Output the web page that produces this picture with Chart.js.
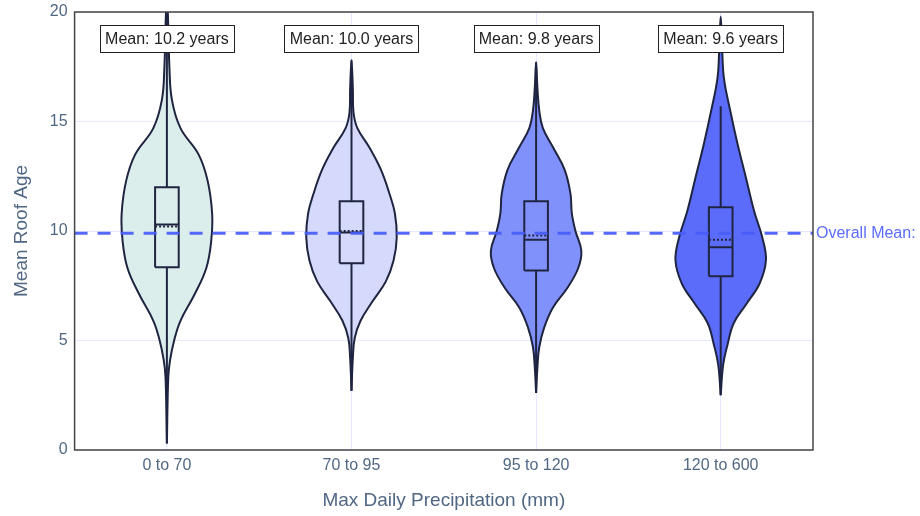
<!DOCTYPE html>
<html>
<head>
  <meta charset="UTF-8">
  <title>Mean Roof Age by Max Daily Precipitation</title>
  <script src="https://cdn.jsdelivr.net/npm/chart.js"></script>
  <style>
    html, body { margin: 0; padding: 0; background: #fff; }
    #wrap { width: 920px; height: 516px; position: relative; }
  </style>
</head>
<body>
  <div id="wrap"><canvas id="violinChart"></canvas></div>

  <script>
    // --- data ---
    const categories = ['0 to 70', '70 to 95', '95 to 120', '120 to 600'];
    const means = [10.2, 10.0, 9.8, 9.6];
    const medians = [10.3, 9.93, 9.6, 9.26];
    const q1 = [8.35, 8.53, 8.2, 7.93];
    const q3 = [12.0, 11.36, 11.36, 11.09];
    const whiskerLow = [0.3, 2.7, 2.6, 2.5];
    const whiskerHigh = [20.5, 17.8, 17.7, 15.7];
    const overallMean = 9.9;
    const yTicks = [0, 5, 10, 15, 20];

    // violin outlines: y levels and relative density (half width, max 1)
    const violinY = [
      [0.3, 3.3, 4.1, 5.0, 5.9, 7.1, 8.3, 9.55, 10.8, 12.3, 13.5, 14.7, 16.0, 17.5, 19.0, 20.8],
      [2.7, 4.2, 5.1, 5.9, 6.8, 7.7, 8.65, 9.7, 10.8, 11.7, 12.8, 13.8, 14.7, 15.4, 16.5, 17.8],
      [2.6, 3.8, 4.7, 5.6, 6.5, 7.4, 8.3, 9.1, 10.0, 10.8, 11.7, 12.8, 13.8, 14.7, 15.5, 16.5, 17.7],
      [2.5, 3.9, 4.8, 5.8, 6.7, 7.6, 8.65, 9.7, 10.9, 12.5, 14.0, 15.5, 17.0, 18.5, 19.8]
    ];
    const violinDensity = [
      [0, 0.03, 0.07, 0.16, 0.3, 0.61, 0.87, 0.98, 1.0, 0.9, 0.7, 0.3, 0.11, 0.055, 0.035, 0],
      [0, 0.03, 0.07, 0.2, 0.47, 0.76, 0.93, 1.0, 0.96, 0.84, 0.65, 0.4, 0.13, 0.045, 0.03, 0],
      [0, 0.03, 0.07, 0.18, 0.37, 0.69, 0.93, 1.0, 0.87, 0.79, 0.76, 0.63, 0.38, 0.15, 0.07, 0.03, 0],
      [0, 0.055, 0.15, 0.29, 0.58, 0.86, 1.0, 0.92, 0.74, 0.55, 0.37, 0.21, 0.07, 0.03, 0]
    ];

    const fills = ['#dceeec', '#d5dafc', '#8191fb', '#5a6cf9'];
    const edge = '#1f2440';
    const violinHalf = 0.245;
    const boxHalf = 0.064;
    const tickColor = '#506784';
    const gridColor = '#e6e8fd';
    const font = 'Arial, "Liberation Sans", sans-serif';

    const datasets = [];
    datasets.push({
      data: [{ x: -0.5, y: overallMean }, { x: 3.5, y: overallMean }],
      showLine: true, borderColor: 'rgba(72,92,250,0.92)', borderWidth: 3,
      borderDash: [13, 10], pointRadius: 0, order: 0
    });

    categories.forEach((c, i) => {
      const ys = violinY[i], ds = violinDensity[i];
      const right = ys.map((y, k) => ({ x: i + ds[k] * violinHalf, y }));
      const left = ys.map((y, k) => ({ x: i - ds[k] * violinHalf, y })).reverse();
      datasets.push({
        data: right.concat(left.slice(1)),
        showLine: true, tension: 0.4, fill: 'shape',
        backgroundColor: fills[i], borderColor: edge, borderWidth: 2,
        pointRadius: 0, order: 5
      });
      datasets.push({
        data: [{ x: i, y: whiskerLow[i] }, { x: i, y: q1[i] }, { x: i, y: null },
               { x: i, y: q3[i] }, { x: i, y: whiskerHigh[i] }],
        showLine: true, spanGaps: false, borderColor: edge, borderWidth: 2,
        pointRadius: 0, order: 4
      });
      datasets.push({
        data: [{ x: i - boxHalf, y: q1[i] }, { x: i + boxHalf, y: q1[i] }, { x: i + boxHalf, y: q3[i] },
               { x: i - boxHalf, y: q3[i] }, { x: i - boxHalf, y: q1[i] }],
        showLine: true, borderColor: edge, borderWidth: 2, pointRadius: 0, order: 3
      });
      datasets.push({
        data: [{ x: i - boxHalf, y: medians[i] }, { x: i + boxHalf, y: medians[i] }],
        showLine: true, borderColor: edge, borderWidth: 2, pointRadius: 0, order: 2
      });
      datasets.push({
        data: [{ x: i - boxHalf, y: means[i] }, { x: i + boxHalf, y: means[i] }],
        showLine: true, borderColor: edge, borderWidth: 2, borderDash: [2, 2],
        pointRadius: 0, order: 1
      });
    });

    const extras = {
      id: 'extras',
      afterDraw(chart) {
        const { ctx, chartArea: a, scales: { x, y } } = chart;
        ctx.save();
        // frame
        ctx.strokeStyle = '#444';
        ctx.lineWidth = 1.5;
        ctx.strokeRect(a.left, a.top, a.right - a.left, a.bottom - a.top);
        // mean labels
        ctx.font = '16px ' + font;
        ctx.textAlign = 'center';
        ctx.textBaseline = 'middle';
        categories.forEach((c, i) => {
          const txt = 'Mean: ' + means[i].toFixed(1) + ' years';
          const cx = x.getPixelForValue(i), cy = y.getPixelForValue(18.8);
          const w = Math.round(ctx.measureText(txt).width + 10), h = 27;
          const bx = Math.round(cx - w / 2) + 0.5, by = Math.round(cy - h / 2) + 0.5;
          ctx.fillStyle = '#fff';
          ctx.fillRect(bx, by, w, h);
          ctx.strokeStyle = '#222';
          ctx.lineWidth = 1;
          ctx.strokeRect(bx, by, w, h);
          ctx.fillStyle = '#222';
          ctx.fillText(txt, cx, cy + 1);
        });
        // overall mean label
        ctx.fillStyle = '#5b6cfb';
        ctx.textAlign = 'left';
        ctx.fillText('Overall Mean:', a.right + 3, y.getPixelForValue(overallMean));
        ctx.restore();
      }
    };

    new Chart(document.getElementById('violinChart'), {
      type: 'scatter',
      data: { datasets },
      options: {
        responsive: true,
        maintainAspectRatio: false,
        animation: false,
        layout: { padding: { top: 12, right: 107, bottom: 4, left: 8 } },
        plugins: { legend: { display: false }, tooltip: { enabled: false } },
        scales: {
          x: {
            type: 'linear', min: -0.5, max: 3.5,
            afterBuildTicks: s => { s.ticks = categories.map((c, i) => ({ value: i })); },
            ticks: { callback: v => categories[v], color: tickColor, font: { size: 16, family: font }, padding: 6 },
            grid: { color: gridColor, drawTicks: false },
            border: { display: false },
            title: { display: true, text: 'Max Daily Precipitation (mm)', color: tickColor,
                     font: { size: 19, family: font }, padding: { top: 8, bottom: 0 } }
          },
          y: {
            min: 0, max: 20,
            afterBuildTicks: s => { s.ticks = yTicks.map(v => ({ value: v })); },
            ticks: { color: tickColor, font: { size: 16, family: font, lineHeight: 0.6 }, padding: 7 },
            grid: { color: gridColor, drawTicks: false },
            border: { display: false },
            title: { display: true, text: 'Mean Roof Age', color: tickColor,
                     font: { size: 19, family: font }, padding: { top: 2, bottom: 10 } }
          }
        }
      },
      plugins: [extras]
    });
  </script>
</body>
</html>
